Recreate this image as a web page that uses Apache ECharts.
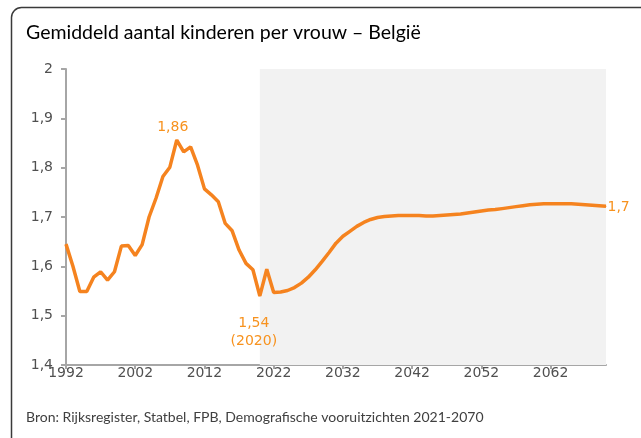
<!DOCTYPE html>
<html>
<head>
<meta charset="utf-8">
<script src="https://cdn.jsdelivr.net/npm/echarts@6/dist/echarts.min.js"></script>
<style>
  html, body { margin: 0; padding: 0; background: #fff; }
  #chart { width: 641px; height: 438px; }
</style>
</head>
<body>
<div id="chart"></div>
<script>
  // years 1992..2070 (history up to 2021, FPB projection afterwards)
  const years = []
  for (let y = 1992; y <= 2070; y++) years.push(String(y))

  const fertility = [
    1.645, 1.600, 1.549, 1.549, 1.578, 1.589, 1.572, 1.589, 1.641, 1.642,
    1.622, 1.644, 1.700, 1.738, 1.782, 1.801, 1.856, 1.832, 1.842, 1.805,
    1.757, 1.745, 1.731, 1.687, 1.672, 1.633, 1.606, 1.593, 1.540, 1.594,
    1.547, 1.548, 1.551, 1.557, 1.566, 1.578, 1.593, 1.610, 1.628, 1.647,
    1.661, 1.671, 1.681, 1.689, 1.695, 1.699, 1.701, 1.702, 1.703, 1.703,
    1.703, 1.703, 1.702, 1.702, 1.703, 1.704, 1.705, 1.706, 1.708, 1.710,
    1.712, 1.714, 1.715, 1.717, 1.719, 1.721, 1.723, 1.725, 1.726, 1.727,
    1.727, 1.727, 1.727, 1.727, 1.726, 1.725, 1.724, 1.723, 1.722
  ]

  const projectionStart = '2020'
  const projectionEnd = '2070'

  const peakYear = '2008'
  const peakText = '1,86'
  const lowYear = '2020'
  const lowText = '1,54\n(2020)'
  const lastText = '1,7'

  const title = 'Gemiddeld aantal kinderen per vrouw – België'
  const source = 'Bron: Rijksregister, Statbel, FPB, Demografische vooruitzichten 2021-2070'

  const orange = '#F5831F'
  const labelOrange = '#F7921E'
  const axisGray = '#a6a6a6'
  const textGray = '#505050'

  const labelFont = { fontFamily: 'DejaVu Sans', fontSize: 14 }

  const seriesData = fertility.map((v, i) => {
    const item = { value: v }
    if (years[i] === peakYear) {
      item.label = { show: true, position: 'top', distance: 5, offset: [-4, 0], formatter: peakText }
    } else if (years[i] === lowYear) {
      item.label = { show: true, position: 'bottom', distance: 18, offset: [-6, 0], lineHeight: 18, formatter: lowText }
    } else if (i === fertility.length - 1) {
      item.label = { show: true, position: 'right', distance: 1, offset: [0, 1], formatter: lastText }
    }
    return item
  })

  const chart = echarts.init(document.getElementById('chart'))

  chart.setOption({
    backgroundColor: '#fff',
    animation: false,
    grid: { left: 66, right: 35, top: 69, bottom: 73 },
    graphic: [
      {
        type: 'rect',
        shape: { x: 11.5, y: 7.5, width: 700, height: 500, r: 10 },
        style: { fill: null, stroke: '#3a3a3a', lineWidth: 1.5 },
        z: -1,
        silent: true
      },
      {
        type: 'text',
        left: 26,
        top: 23,
        style: { text: title, fontFamily: 'Lato', fontSize: 19.5, fill: '#000' }
      },
      {
        type: 'text',
        left: 26,
        top: 410,
        style: { text: source, fontFamily: 'Lato', fontSize: 14, fill: '#404040' }
      }
    ],
    xAxis: {
      type: 'category',
      data: years,
      boundaryGap: false,
      axisLine: { lineStyle: { color: axisGray, width: 2 } },
      axisTick: { show: true, interval: 9, length: 4, lineStyle: { color: axisGray, width: 2 } },
      axisLabel: { interval: 9, color: textGray, margin: 1, ...labelFont },
      splitLine: { show: false }
    },
    yAxis: {
      type: 'value',
      min: 1.4,
      max: 2,
      interval: 0.1,
      axisLine: { show: true, lineStyle: { color: axisGray, width: 2 } },
      axisTick: { show: true, length: 5, lineStyle: { color: axisGray, width: 2 } },
      axisLabel: {
        color: textGray,
        margin: 13,
        ...labelFont,
        formatter: (v) => String(+v.toFixed(1)).replace('.', ',')
      },
      splitLine: { show: false }
    },
    series: [
      {
        type: 'line',
        data: seriesData,
        symbol: 'circle',
        symbolSize: 1,
        showAllSymbol: true,
        lineStyle: { color: orange, width: 3.5 },
        itemStyle: { color: orange },
        label: { color: labelOrange, ...labelFont },
        markArea: {
          silent: true,
          itemStyle: { color: '#f2f2f2' },
          data: [[{ xAxis: projectionStart }, { xAxis: projectionEnd }]]
        },
        z: 3
      }
    ]
  })
</script>
</body>
</html>
